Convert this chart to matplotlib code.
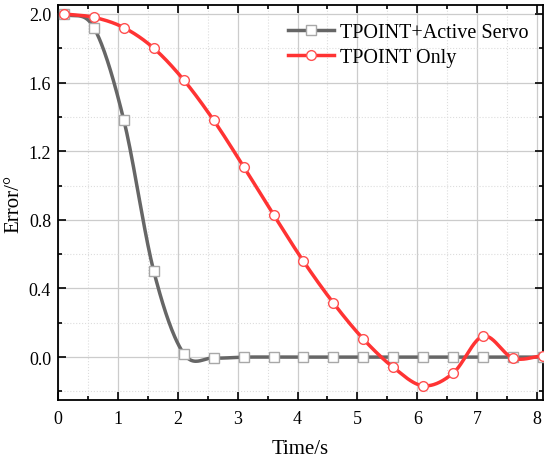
import numpy as np
import matplotlib
matplotlib.use("Agg")
import matplotlib.pyplot as plt
from matplotlib.ticker import MultipleLocator

# Data
time_s = [0.1, 0.6, 1.1, 1.6, 2.1, 2.6, 3.1, 3.6, 4.1, 4.6, 5.1, 5.6, 6.1, 6.6, 7.1, 7.6, 8.1]
servo_err = [2.0, 1.92, 1.38, 0.50, 0.02, -0.005, 0.0, 0.0, 0.0, 0.0, 0.0, 0.0, 0.0, 0.0, 0.0, 0.0, 0.0]
only_err = [2.0, 1.98, 1.92, 1.80, 1.615, 1.38, 1.11, 0.83, 0.558, 0.315, 0.105, -0.06, -0.167, -0.093, 0.122, -0.006, 0.008]
series_names = ["TPOINT+Active Servo", "TPOINT Only"]


def smooth_curve(x, y, n=40):
    """Catmull-Rom style Hermite curve through the data points (line style only)."""
    x = np.asarray(x, float)
    y = np.asarray(y, float)
    m = len(x)
    t = np.zeros(m)
    t[1:-1] = (y[2:] - y[:-2]) / (x[2:] - x[:-2])
    t[0] = (y[1] - y[0]) / (x[1] - x[0])
    t[-1] = (y[-1] - y[-2]) / (x[-1] - x[-2])
    xs_all, ys_all = [], []
    for i in range(m - 1):
        h = x[i + 1] - x[i]
        s = np.linspace(0, 1, n, endpoint=(i == m - 2))
        h00 = 2 * s**3 - 3 * s**2 + 1
        h10 = s**3 - 2 * s**2 + s
        h01 = -2 * s**3 + 3 * s**2
        h11 = s**3 - s**2
        xs_all.append(x[i] + s * h)
        ys_all.append(h00 * y[i] + h10 * h * t[i] + h01 * y[i + 1] + h11 * h * t[i + 1])
    return np.concatenate(xs_all), np.concatenate(ys_all)


plt.rcParams['font.family'] = ['Liberation Serif', 'DejaVu Serif']

fig = plt.figure(figsize=(5.5, 4.6), dpi=100)
ax = fig.add_axes([58 / 550, 1 - 401 / 460, (543 - 58) / 550, (401 - 6) / 460])

gray = '#666666'
gray_edge = '#a8a8a8'
red = '#ff3333'
red_edge = '#ff5050'

xs, ys = smooth_curve(time_s, servo_err)
ax.plot(xs, ys, color=gray, lw=2.5, zorder=3, solid_capstyle='round')
ax.plot(time_s, servo_err, ls='none', marker='s', ms=6.5, mfc='white', mec=gray_edge, mew=1.0, zorder=4)

xs, ys = smooth_curve(time_s, only_err)
ax.plot(xs, ys, color=red, lw=2.5, zorder=5, solid_capstyle='round')
ax.plot(time_s, only_err, ls='none', marker='o', ms=7, mfc='white', mec=red_edge, mew=1.0, zorder=6)

# legend proxies
h1, = ax.plot([], [], color=gray, lw=2.5, marker='s', ms=6.5, mfc='white', mec=gray_edge, mew=1.0)
h2, = ax.plot([], [], color=red, lw=2.5, marker='o', ms=7, mfc='white', mec=red_edge, mew=1.0)
ax.legend([h1, h2], series_names, loc='upper right', frameon=False, fontsize=14.5,
          handlelength=2.3, handletextpad=0.3, labelspacing=0.3,
          borderaxespad=0.3, bbox_to_anchor=(1.0, 0.99))

ax.set_xlim(0, 8.1)
ax.set_ylim(-0.25, 2.052)
ax.xaxis.set_major_locator(MultipleLocator(1))
ax.xaxis.set_minor_locator(MultipleLocator(0.5))
ax.yaxis.set_major_locator(MultipleLocator(0.4))
ax.yaxis.set_minor_locator(MultipleLocator(0.2))
ax.yaxis.set_major_formatter(matplotlib.ticker.FormatStrFormatter('%.1f'))

ax.grid(which='major', color='#cccccc', lw=0.9, ls='-', zorder=0)
ax.grid(which='minor', color='#dddddd', lw=0.8, ls=':', zorder=0)
ax.set_axisbelow(True)

ax.tick_params(which='both', direction='in', top=True, right=True, labelsize=13, width=1.2)
ax.tick_params(which='major', length=6)
ax.tick_params(which='minor', length=3)
ax.tick_params(axis='x', pad=7)
ax.tick_params(axis='y', pad=5)
for s in ax.spines.values():
    s.set_linewidth(1.3)

ax.set_xlabel('Time/s', fontsize=15, labelpad=9)
ax.set_ylabel('Error/°', fontsize=15, labelpad=4)

fig.savefig('out.png', dpi=100)
